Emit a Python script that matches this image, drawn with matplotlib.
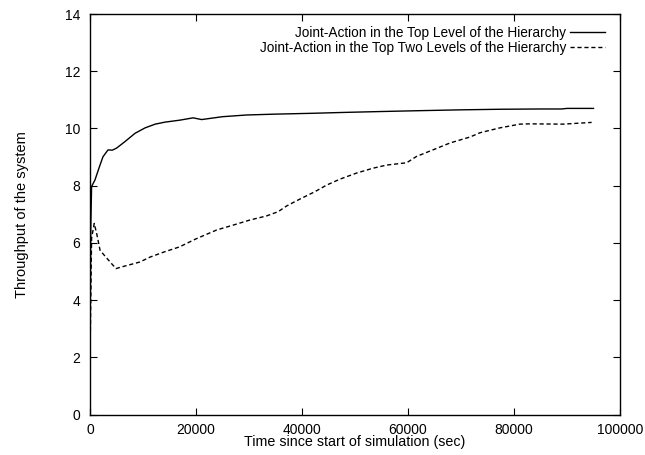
import matplotlib
matplotlib.use("Agg")
import matplotlib.pyplot as plt

plt.rcParams['font.family'] = ['Liberation Sans', 'DejaVu Sans']

# Joint-Action in the Top Level of the Hierarchy
top_x = [0, 150, 300, 940, 1890, 2450, 3400, 4200, 5000, 6600, 8500, 10400,
         12300, 14150, 16980, 19450, 21070, 25000, 29560, 35000, 42150, 48000,
         54700, 62000, 70000, 77350, 85000, 89000, 90000, 95000]
top_y = [2.1, 6.59, 7.97, 8.2, 8.72, 9.01, 9.25, 9.24, 9.31, 9.54, 9.83, 10.02,
         10.15, 10.22, 10.29, 10.37, 10.31, 10.41, 10.47, 10.5, 10.53, 10.56,
         10.59, 10.62, 10.65, 10.67, 10.68, 10.68, 10.7, 10.7]

# Joint-Action in the Top Two Levels of the Hierarchy
two_x = [0, 300, 800, 1300, 1900, 3000, 4900, 5800, 9400, 11300, 13800,
         16900, 20000, 23900, 27000, 30200, 33300, 35500, 37100, 39600, 42450,
         44650, 47200, 50300, 53400, 56000, 59750, 61600, 64700, 67900, 71700,
         73600, 77350, 81100, 83000, 89250, 94650]
two_y = [1.94, 6.16, 6.68, 6.29, 5.74, 5.5, 5.1, 5.15, 5.33, 5.5, 5.67,
         5.86, 6.14, 6.45, 6.62, 6.8, 6.94, 7.09, 7.29, 7.53, 7.79,
         8.02, 8.23, 8.44, 8.61, 8.72, 8.8, 9.02, 9.25, 9.49, 9.7,
         9.85, 10.02, 10.15, 10.16, 10.15, 10.21]

x_ticks = [0, 20000, 40000, 60000, 80000, 100000]
y_ticks = [0, 2, 4, 6, 8, 10, 12, 14]

fig = plt.figure(figsize=(6.45, 4.55), dpi=100)
ax = fig.add_axes([90 / 645, 1 - 414.5 / 455, 530 / 645, 400.5 / 455])

ax.plot(top_x, top_y, color='black', lw=1.0, ls='-',
        label='Joint-Action in the Top Level of the Hierarchy')
ax.plot(two_x, two_y, color='black', lw=1.0, ls=(0, (3, 2)),
        label='Joint-Action in the Top Two Levels of the Hierarchy')

ax.set_xlim(0, 100000)
ax.set_ylim(0, 14)
ax.set_xticks(x_ticks)
ax.set_yticks(y_ticks)
ax.tick_params(direction='in', top=True, right=True, length=5, width=0.8,
               labelsize=10)
ax.tick_params(axis='x', pad=6)
ax.tick_params(axis='y', pad=7)
for s in ax.spines.values():
    s.set_linewidth(1.0)

ax.set_xlabel('Time since start of simulation (sec)', fontsize=10.3, labelpad=-1)
ax.set_ylabel('Throughput of the system', fontsize=10.5, labelpad=26)

ax.legend(loc='upper right', frameon=False, markerfirst=False, fontsize=9.8,
          handlelength=2.55, handletextpad=0.3, labelspacing=0.08,
          borderaxespad=0, borderpad=0, bbox_to_anchor=(0.9717, 0.97))

fig.savefig('out.png', dpi=100)
